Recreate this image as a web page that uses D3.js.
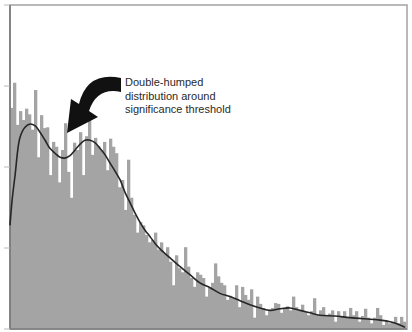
<!DOCTYPE html>
<html>
<head>
<meta charset="utf-8">
<script src="https://cdn.jsdelivr.net/npm/d3@7"></script>
<style>
  html, body { margin: 0; padding: 0; background: #fff; }
  svg { display: block; }
</style>
</head>
<body>
<div id="chart"></div>
<script>
// histogram counts per bin (132 bins)
const binCounts = [
  27.3, 30.4, 25.2, 26.9, 25.8, 27.2, 26.5, 24.6, 29.5, 21.2,
  26.4, 24.8, 24.9, 19.0, 23.1, 22.5, 18.1, 22.1, 25.4, 19.4,
  16.2, 23.0, 22.1, 24.3, 19.0, 23.8, 25.8, 21.5, 23.6, 22.6,
  22.1, 23.1, 19.6, 23.5, 22.5, 21.7, 17.5, 18.4, 14.7, 20.9,
  16.2, 14.1, 11.9, 13.2, 12.8, 11.6, 10.7, 11.0, 11.9, 9.8,
  10.7, 9.3, 10.1, 8.3, 5.4, 9.1, 7.5, 7.0, 10.1, 7.7,
  6.3, 5.2, 7.0, 6.7, 6.3, 4.0, 5.1, 5.7, 8.1, 6.5,
  5.7, 5.4, 3.6, 4.1, 3.8, 5.4, 2.7, 5.2, 4.2, 3.6,
  4.9, 1.4, 4.0, 3.1, 2.6, 1.7, 2.3, 2.6, 3.2, 3.1,
  2.0, 2.5, 2.8, 2.3, 4.0, 2.7, 2.3, 3.0, 2.1, 1.7,
  2.2, 3.8, 1.7, 2.3, 2.7, 1.6, 1.9, 2.3, 0.9, 2.2,
  1.5, 2.2, 1.4, 2.6, 1.7, 2.2, 0.9, 1.6, 2.5, 1.4,
  0.7, 1.4, 2.6, 1.7, 0.5, 1.0, 0.7, 0.9, 1.5, 0.7,
  1.5, 0.9
];

// smoothed density curve: [bin position, value]
const smoothX = [0, 0.7, 1.7, 3.3, 5.0, 6.7, 8.3, 10, 11.7, 13.3, 15, 16.7, 18.3, 20, 21.7, 23.3, 25, 26.7,
  28.3, 30, 31.7, 33.3, 35, 36.7, 38.3, 40, 41.7, 43.3, 45, 46.7, 48.3, 50, 53.3, 56.7, 60, 63.3, 66.7,
  70, 73.3, 76.7, 80, 83.3, 86.7, 90, 93.3, 96.7, 100, 103.3, 108.3, 113.3, 120, 123.3, 126.7, 130, 131.7];
const smoothY = [12.8, 15.9, 19.0, 23.6, 24.9, 25.3, 25.1, 24.3, 23.3, 22.3, 21.7, 21.2, 21.1, 21.4, 22.1, 22.8, 23.3, 23.3,
  23.0, 22.3, 21.5, 20.5, 19.5, 18.4, 16.9, 15.6, 14.3, 13.2, 12.2, 11.4, 10.6, 9.9, 8.8, 7.7, 6.7, 5.7, 5.1,
  4.4, 4.0, 3.5, 3.0, 2.6, 2.3, 2.5, 2.6, 2.3, 2.0, 1.7, 1.6, 1.4, 1.2, 1.1, 0.9, 0.5, 0.2];

const yTicks = [0, 10, 20, 30, 40];
const noteLines = ['Double-humped', 'distribution around', 'significance threshold'];
// arrow points at the dip between the two humps
const arrowTip = { x: 19, y: 24.2 };

const W = 412, H = 332;
const margin = { top: 5, right: 6, bottom: 3, left: 10 };

const svg = d3.select('#chart').append('svg')
  .attr('width', W)
  .attr('height', H);

const x = d3.scaleLinear()
  .domain([0, binCounts.length])
  .range([margin.left, W - margin.right]);

const y = d3.scaleLinear()
  .domain([0, 40])
  .range([H - margin.bottom, margin.top]);

// bars
svg.append('g')
  .selectAll('rect')
  .data(binCounts)
  .join('rect')
  .attr('x', (d, i) => x(i))
  .attr('width', (d, i) => x(i + 1) - x(i) + 0.3)
  .attr('y', d => y(d))
  .attr('height', d => y(0) - y(d))
  .attr('fill', '#a4a4a4');

// frame
svg.append('rect')
  .attr('x', x(0))
  .attr('y', y(40))
  .attr('width', x(binCounts.length) + 1 - x(0))
  .attr('height', y(0) - y(40))
  .attr('fill', 'none')
  .attr('stroke', '#a8a8a8')
  .attr('stroke-width', 1.6);

svg.append('line')
  .attr('x1', x(0)).attr('x2', x(0))
  .attr('y1', y(40)).attr('y2', y(0))
  .attr('stroke', '#6e6e6e')
  .attr('stroke-width', 1.4);

svg.append('line')
  .attr('x1', x(0)).attr('x2', x(binCounts.length) + 1)
  .attr('y1', y(0)).attr('y2', y(0))
  .attr('stroke', '#7a7a7a')
  .attr('stroke-width', 1.6);

// left ticks
svg.append('g')
  .selectAll('line')
  .data(yTicks)
  .join('line')
  .attr('x1', x(0) - 6)
  .attr('x2', x(0))
  .attr('y1', d => y(d))
  .attr('y2', d => y(d))
  .attr('stroke', '#b8b8b8')
  .attr('stroke-width', 1);

// smoothed curve
const pts = smoothX.map((v, i) => [v, smoothY[i]]);
svg.append('path')
  .datum(pts)
  .attr('fill', 'none')
  .attr('stroke', '#262626')
  .attr('stroke-width', 1.6)
  .attr('d', d3.line()
    .x(d => x(d[0]))
    .y(d => y(d[1]))
    .curve(d3.curveCatmullRom.alpha(0.5)));

// curved arrow
const tx = x(arrowTip.x), ty = y(arrowTip.y);
const arrow = d3.path();
arrow.moveTo(tx, ty);
arrow.lineTo(tx + 31, ty - 16);
arrow.lineTo(tx + 22, ty - 22);
arrow.quadraticCurveTo(tx + 30, ty - 46, tx + 54, ty - 41);
arrow.lineTo(tx + 54, ty - 55);
arrow.quadraticCurveTo(tx + 20, ty - 62, tx + 12, ty - 29);
arrow.lineTo(tx + 4, ty - 34);
arrow.closePath();

svg.append('path')
  .attr('d', arrow.toString())
  .attr('fill', '#111');

// annotation
svg.append('text')
  .attr('x', 125)
  .attr('y', 86)
  .attr('font-family', 'Liberation Sans, Arial, sans-serif')
  .attr('font-size', 11)
  .attr('fill', '#2a2a2a')
  .selectAll('tspan')
  .data(noteLines)
  .join('tspan')
  .attr('x', 125)
  .attr('dy', (d, i) => i === 0 ? 0 : 13.5)
  .text(d => d);
</script>
</body>
</html>
